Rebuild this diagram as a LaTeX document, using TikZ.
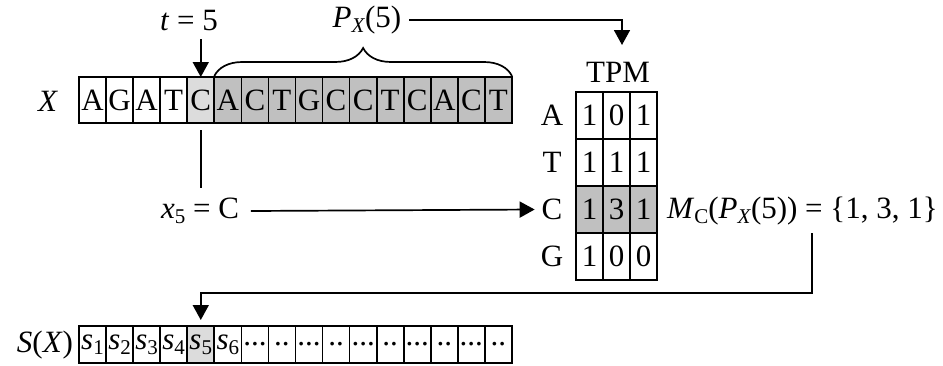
\documentclass[tikz,border=0pt]{standalone}
\usepackage{fontspec}
\setmainfont{Liberation Serif}
\usetikzlibrary{arrows.meta,decorations.pathreplacing}
\newcommand\lsub[1]{\raisebox{-0.35ex}{\fontsize{21}{21}\selectfont #1}}
\definecolor{lightg}{HTML}{DCDCDC}
\definecolor{darkg}{HTML}{C0C0C0}
\tikzset{
  cell/.style={draw, line width=1.7pt, minimum width=27.06pt, minimum height=46pt, inner sep=0pt, outer sep=0pt},
  mcell/.style={draw, line width=1.7pt, minimum width=27pt, minimum height=47pt, inner sep=0pt, outer sep=0pt},
  scell/.style={draw, line width=1.7pt, minimum width=27.06pt, minimum height=37pt, inner sep=0pt, outer sep=0pt},
  lbl/.style={inner sep=0pt, outer sep=0pt},
  conn/.style={line width=1.7pt},
  arr/.style={line width=1.7pt, -{Triangle[length=15pt,width=16pt]}},
}
\begin{document}
\begin{tikzpicture}[x=1pt,y=-1pt, font=\fontsize{31}{36}\selectfont]
\useasboundingbox (0,0) rectangle (943,365);
% X sequence
\node[lbl] (xl) at (48,101) {\textit{X}};
\foreach \c/\f [count=\i] in {A/white,G/white,A/white,T/white,C/lightg,A/darkg,C/darkg,T/darkg,G/darkg,C/darkg,C/darkg,T/darkg,C/darkg,A/darkg,C/darkg,T/darkg}
  \node[cell, fill=\f] (x\i) at ({79+27.06*(\i-0.5)},100) {\c};
% t = 5
\node[lbl] (t) at (189,20) {\textit{t} = 5};
\coordinate (tarr) at ([yshift=38]x5.north);
\draw[arr] (tarr) -- (x5.north);
% brace
\draw[line width=1.7pt, decorate, decoration={brace, amplitude=28pt}] ([yshift=1]x6.north west) -- ([yshift=1]x16.north east);
\node[lbl] (px) at (367,20) {\textit{P}\lsub{\textit{X}}(5)};
% TPM
\node[lbl] (tpm) at (618,72) {TPM};
\coordinate (tpmarr) at (622,45);
\draw[arr] ([xshift=8]px.east) -| (tpmarr);
\foreach \r/\yy/\a/\b/\cc/\f in {A/115.5/1/0/1/white, T/162.5/1/1/1/white, C/209.5/1/3/1/darkg, G/256.5/1/0/0/white}{
  \node[lbl] (l\r) at (552,\yy) {\r};
  \node[mcell, fill=\f] (m\r1) at (589.5,\yy) {\a};
  \node[mcell, fill=\f] (m\r2) at (616.5,\yy) {\b};
  \node[mcell, fill=\f] (m\r3) at (643.5,\yy) {\cc};
}
% x5 = C
\node[lbl] (x5c) at (200,211) {\textit{x}\lsub{5} = C};
\coordinate (vtop) at ([yshift=-7]x5.south);
\coordinate (vbot) at ([yshift=-65]x5.south);
\draw[conn] (vtop) -- (vbot);
\draw[arr] ([xshift=12]x5c.east) -- ([xshift=-7]lC.west);
% M_C
\node[lbl, anchor=west] (mc) at (667,211) {\textit{M}\lsub{C}(\textit{P}\lsub{\textit{X}}(5)) = \{1, 3, 1\}};
\coordinate (mcout) at (812,233);
\coordinate (turn) at (812,293);
% S(X)
\node[lbl] (sl) at (45,345) {\textit{S}(\textit{X})};
\foreach \t/\f [count=\i] in {{\textit{s}\lsub{1}}/white,{\textit{s}\lsub{2}}/white,{\textit{s}\lsub{3}}/white,{\textit{s}\lsub{4}}/white,{\textit{s}\lsub{5}}/lightg,{\textit{s}\lsub{6}}/white,{...}/white,{..}/white,{...}/white,{..}/white,{...}/white,{..}/white,{...}/white,{..}/white,{...}/white,{..}/white}
  \node[scell, fill=\f] (s\i) at ({79+27.06*(\i-0.5)},344.5) {\t};
\coordinate (sarr) at ([yshift=6]s5.north);
\draw[arr] (mcout) -- (turn) -| (sarr);
\end{tikzpicture}
\end{document}
